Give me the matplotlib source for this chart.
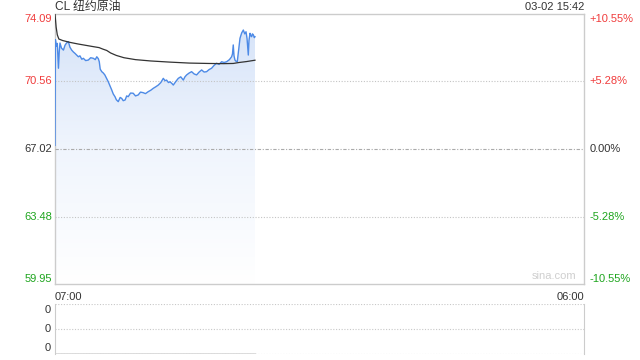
import matplotlib
matplotlib.use("Agg")
import matplotlib.pyplot as plt
import numpy as np
from matplotlib.colors import LinearSegmentedColormap

plt.rcParams['font.family'] = ['Liberation Sans', 'Noto Sans CJK SC', 'DejaVu Sans']

# ---- data ----
title = "CL 纽约原油"
stamp = "03-02 15:42"
prev_close = 67.02
y_ticks = [74.09, 70.56, 67.02, 63.48, 59.95]
pct_labels = ["+10.55%", "+5.28%", "0.00%", "-5.28%", "-10.55%"]
x_labels = ["07:00", "06:00"]
total_minutes = 1380

price_t = [0, 1, 4, 6, 9, 11, 13, 17, 22, 26, 30, 35, 39, 43.5, 48, 52, 56, 61, 65, 70, 74,
           80, 87, 93, 100, 105, 109, 113, 115.5, 118, 122, 126, 130, 135, 139, 144, 148,
           152, 156.5, 160, 165, 170, 174, 178, 183, 187, 191, 197, 204, 210, 217, 223,
           230, 236, 243, 250, 256.5, 263, 269.5, 276, 282.5, 287, 291, 296, 300, 305,
           308.6, 315, 321.6, 328, 334.7, 339, 343.4, 350, 356.4, 363, 369.4, 376, 382.5,
           389, 395.5, 402, 408.5, 415, 421.6, 428, 434.6, 441, 447.7, 455, 460.7, 463,
           465, 467, 469.4, 472, 475.5, 479, 482.6, 487, 491.3, 495, 498.3, 501, 504.3,
           506, 508.7, 511, 513, 515, 517.4, 520, 521.7]
price_v = [67.21, 72.75, 72.40, 72.55, 71.25, 72.10, 72.57, 72.30, 72.20, 72.45, 72.57, 72.64,
           72.35, 72.20, 72.10, 72.03, 71.95, 71.85, 71.90, 71.72, 71.77, 71.65, 71.68, 71.80,
           71.77, 71.70, 71.85, 71.75, 71.59, 71.20, 71.07, 71.00, 70.90, 70.70, 70.54, 70.30,
           70.11, 69.90, 69.76, 69.60, 69.50, 69.72, 69.67, 69.55, 69.59, 69.80, 69.76, 69.95,
           69.94, 69.80, 69.85, 70.00, 69.97, 69.92, 70.02, 70.10, 70.20, 70.28, 70.37, 70.50,
           70.72, 70.60, 70.63, 70.50, 70.54, 70.45, 70.37, 70.55, 70.72, 70.80, 70.63, 70.80,
           70.90, 71.00, 71.07, 70.95, 70.90, 71.05, 71.16, 71.05, 71.07, 71.18, 71.25, 71.40,
           71.51, 71.45, 71.59, 71.55, 71.59, 71.70, 71.85, 72.00, 72.47, 71.90, 71.68, 71.62,
           71.59, 72.20, 72.82, 73.10, 73.25, 73.05, 73.16, 72.80, 71.94, 72.70, 73.08, 72.95,
           72.90, 73.05, 73.00, 72.85, 72.90]

avg_t = [0, 3, 6, 10, 20, 40, 60, 80, 100, 115, 125, 135, 145, 160, 180, 210, 250, 300,
         350, 400, 440, 465, 480, 500, 521.7]
avg_v = [74.09, 73.40, 73.00, 72.78, 72.70, 72.60, 72.52, 72.45, 72.38, 72.33, 72.25, 72.18,
         72.05, 71.92, 71.80, 71.70, 71.63, 71.57, 71.52, 71.50, 71.49, 71.50, 71.55, 71.60,
         71.67]

vol_labels = ["0", "0", "0"]

# ---- colors ----
RED = "#f03c3c"
GREEN = "#1ea51e"
DARK = "#333333"
BORDER = "#cccccc"
LINE = "#4d8ae6"

fig = plt.figure(figsize=(6.4, 3.6), dpi=100)
W, H = 640, 360
ax = fig.add_axes([55 / W, 1 - 284 / H, (584 - 55) / W, (284 - 14) / H])
ymin, ymax = y_ticks[-1], y_ticks[0]
ax.set_xlim(0, total_minutes)
ax.set_ylim(ymin, ymax)
ax.set_xticks([])
ax.set_yticks([])
for s in ax.spines.values():
    s.set_color(BORDER)
    s.set_linewidth(1)

# gradient fill
cmap = LinearSegmentedColormap.from_list("g", ["#ffffff", "#f0f5fd", "#d4e2f8"])
grad = np.linspace(0, 1, 256).reshape(-1, 1)
im = ax.imshow(grad, extent=[0, total_minutes, ymin, ymax], origin="lower",
               aspect="auto", cmap=cmap, zorder=2, interpolation="bicubic")
poly = ax.fill_between(price_t, price_v, ymin, color="none", lw=0)
clip = poly.get_paths()[0]
im.set_clip_path(clip, transform=ax.transData)

# gridlines (drawn over the fill)
for v in [y_ticks[1], y_ticks[3]]:
    ax.axhline(v, color="#c4c4c4", lw=0.8, ls=(0, (1, 1.5)), zorder=3)
ax.axhline(prev_close, color="#aaaaaa", lw=0.8, ls=(0, (3, 1.5, 1, 1.5)), zorder=3)

ax.plot(price_t, price_v, color=LINE, lw=1.0, zorder=4)
ax.plot(avg_t, avg_v, color="#333333", lw=0.9, zorder=5)

# y labels
tr_l = ax.get_yaxis_transform()
colors = [RED, RED, DARK, GREEN, GREEN]
vas = ["top", "center", "center", "center", "bottom"]
for v, c, va, p in zip(y_ticks, colors, vas, pct_labels):
    ax.text(-0.006, v, f"{v:.2f}", transform=tr_l, ha="right", va=va, color=c, fontsize=8)
    ax.text(1.010, v, p, transform=tr_l, ha="left", va=va, color=c, fontsize=8)

ax.text(0, -0.03, x_labels[0], transform=ax.transAxes, ha="left", va="top", color=DARK, fontsize=8)
ax.text(1, -0.03, x_labels[1], transform=ax.transAxes, ha="right", va="top", color=DARK, fontsize=8)
ax.text(0, 1 + 7 / 270, title, transform=ax.transAxes, ha="left", va="center", color=DARK,
        fontsize=8.6)
ax.text(1, 1 + 7 / 270, stamp, transform=ax.transAxes, ha="right", va="center", color=DARK,
        fontsize=8)
ax.text(0.985, 0.012, "sina.com", transform=ax.transAxes, ha="right", va="bottom",
        color="#cfcfcf", fontsize=8)

# volume panel
vax = fig.add_axes([55 / W, 1 - 354 / H, (584 - 55) / W, (354 - 304) / H])
vax.set_xlim(0, total_minutes)
vax.set_ylim(0, 1)
vax.set_xticks([])
vax.set_yticks([])
for k in ["left", "right"]:
    vax.spines[k].set_color(BORDER)
for k in ["top", "bottom"]:
    vax.spines[k].set_visible(False)
vax.axhline(1, color="#c8c8c8", lw=0.8, ls=(0, (1, 1.5)))
vax.axhline(0.5, color="#c8c8c8", lw=0.8, ls=(0, (1, 1.5)))
vax.axhline(0, color="#c8c8c8", lw=0.8, ls=(0, (1, 1.5)))
vax.plot([0, price_t[-1]], [0, 0], color="#555555", lw=1.0)
for yv, lab in zip([0.88, 0.5, 0.12], vol_labels):
    vax.text(-0.008, yv, lab, transform=vax.transAxes, ha="right", va="center",
             color=DARK, fontsize=8)

fig.savefig("out.png", dpi=100)
